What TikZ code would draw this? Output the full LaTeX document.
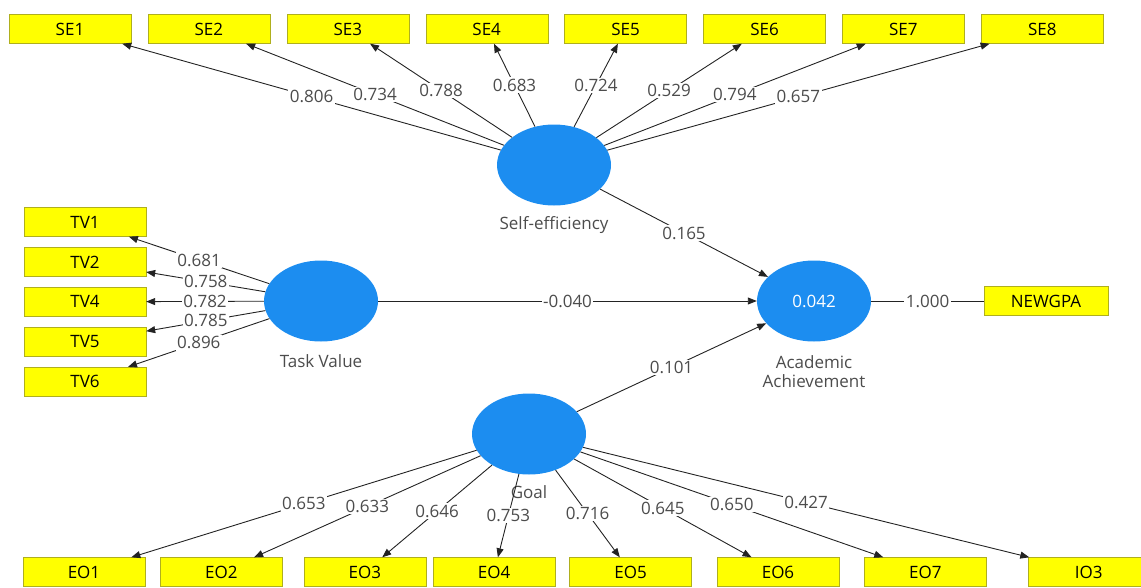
\documentclass[tikz,border=0pt]{standalone}
\usepackage{fontspec}
\setmainfont{Open Sans}
\usetikzlibrary{positioning}
\usetikzlibrary{shapes.geometric}
\usetikzlibrary{arrows.meta}

\definecolor{latentblue}{RGB}{28,141,240}
\definecolor{itemyellow}{RGB}{255,255,0}
\definecolor{itemborder}{RGB}{175,175,30}
\definecolor{edgegray}{RGB}{35,35,35}

\begin{document}
\begin{tikzpicture}[x=1pt, y=-1pt,
                          font=\fontsize{17}{19}\selectfont,
                          >={Triangle[length=9pt, width=7pt]},
                          latentnode/.style={ellipse, fill=latentblue, text=white, minimum width=114pt, minimum height=81pt, inner sep=0pt},
                          itemnode/.style={rectangle, draw=itemborder, fill=itemyellow, minimum width=122pt, minimum height=29pt, inner sep=0pt},
                          captionnode/.style={inner sep=0pt, text=black!70, align=center},
                          weightnode/.style={fill=white, inner sep=1.5pt, text=black!70},
                          loadline/.style={->, draw=edgegray, line width=0.9pt},
                          plainline/.style={draw=edgegray, line width=0.9pt},
                      ]
                      \useasboundingbox (0,0) rectangle (1141,587);

                      % Nodes
                      \node[latentnode]       (se)        at (554,165)              {};
                      \node[captionnode]      (se_cap)    [below=11pt of se]        {Self-efficiency};
                      \node[latentnode]       (tv)        at (321,301)              {};
                      \node[captionnode]      (tv_cap)    [below=13pt of tv]        {Task Value};
                      \node[latentnode]       (aa)        at (814,301)              {0.042};
                      \node[captionnode]      (aa_cap)    [below=14pt of aa]        {Academic\\Achievement};
                      \node[latentnode]       (goal)      at (529,434)              {};
                      \node[captionnode]      (goal_cap)  [below=11pt of goal]      {Goal};

                      \node[itemnode]         (se1)       at (70,29)                {SE1};
                      \node[itemnode]         (se2)       [right=16.5pt of se1]     {SE2};
                      \node[itemnode]         (se3)       [right=16.5pt of se2]     {SE3};
                      \node[itemnode]         (se4)       [right=16.5pt of se3]     {SE4};
                      \node[itemnode]         (se5)       [right=16.5pt of se4]     {SE5};
                      \node[itemnode]         (se6)       [right=16.5pt of se5]     {SE6};
                      \node[itemnode]         (se7)       [right=16.5pt of se6]     {SE7};
                      \node[itemnode]         (se8)       [right=16.5pt of se7]     {SE8};

                      \node[itemnode]         (tv1)       at (85,222)               {TV1};
                      \node[itemnode]         (tv2)       [below=10.5pt of tv1]     {TV2};
                      \node[itemnode]         (tv4)       [below=10.5pt of tv2]     {TV4};
                      \node[itemnode]         (tv5)       [below=10.5pt of tv4]     {TV5};
                      \node[itemnode]         (tv6)       [below=10.5pt of tv5]     {TV6};

                      \node[itemnode, minimum width=124pt] (newgpa) at (1046,301)   {NEWGPA};

                      \node[itemnode]         (eo1)       at (84,572)               {EO1};
                      \node[itemnode]         (eo2)       [right=15pt of eo1]       {EO2};
                      \node[itemnode]         (eo3)       [right=21pt of eo2]       {EO3};
                      \node[itemnode]         (eo4)       [right=7pt of eo3]        {EO4};
                      \node[itemnode]         (eo5)       [right=14pt of eo4]       {EO5};
                      \node[itemnode]         (eo6)       [right=25pt of eo5]       {EO6};
                      \node[itemnode]         (eo7)       [right=25pt of eo6]       {EO7};
                      \node[itemnode]         (io3)       [right=41pt of eo7]       {IO3};

                      %Lines
                      \draw[loadline] (se) -- (se1) node[midway, weightnode] {0.806};
                      \draw[loadline] (se) -- (se2) node[midway, weightnode] {0.734};
                      \draw[loadline] (se) -- (se3) node[midway, weightnode] {0.788};
                      \draw[loadline] (se) -- (se4) node[midway, weightnode] {0.683};
                      \draw[loadline] (se) -- (se5) node[midway, weightnode] {0.724};
                      \draw[loadline] (se) -- (se6) node[midway, weightnode] {0.529};
                      \draw[loadline] (se) -- (se7) node[midway, weightnode] {0.794};
                      \draw[loadline] (se) -- (se8) node[midway, weightnode] {0.657};

                      \draw[loadline] (tv) -- (tv1) node[midway, weightnode] {0.681};
                      \draw[loadline] (tv) -- (tv2) node[midway, weightnode] {0.758};
                      \draw[loadline] (tv) -- (tv4) node[midway, weightnode] {0.782};
                      \draw[loadline] (tv) -- (tv5) node[midway, weightnode] {0.785};
                      \draw[loadline] (tv) -- (tv6) node[midway, weightnode] {0.896};

                      \draw[loadline] (goal) -- (eo1) node[midway, weightnode] {0.653};
                      \draw[loadline] (goal) -- (eo2) node[midway, weightnode] {0.633};
                      \draw[loadline] (goal) -- (eo3) node[midway, weightnode] {0.646};
                      \draw[loadline] (goal) -- (eo4) node[midway, weightnode] {0.753};
                      \draw[loadline] (goal) -- (eo5) node[midway, weightnode] {0.716};
                      \draw[loadline] (goal) -- (eo6) node[midway, weightnode] {0.645};
                      \draw[loadline] (goal) -- (eo7) node[midway, weightnode] {0.650};
                      \draw[loadline] (goal) -- (io3) node[midway, weightnode] {0.427};

                      \draw[loadline] (se) -- (aa) node[midway, weightnode] {0.165};
                      \draw[loadline] (tv) -- (aa) node[midway, weightnode] {-0.040};
                      \draw[loadline] (goal) -- (aa) node[midway, weightnode] {0.101};
                      \draw[plainline] (aa) -- (newgpa) node[midway, weightnode] {1.000};
                  \end{tikzpicture}
\end{document}
